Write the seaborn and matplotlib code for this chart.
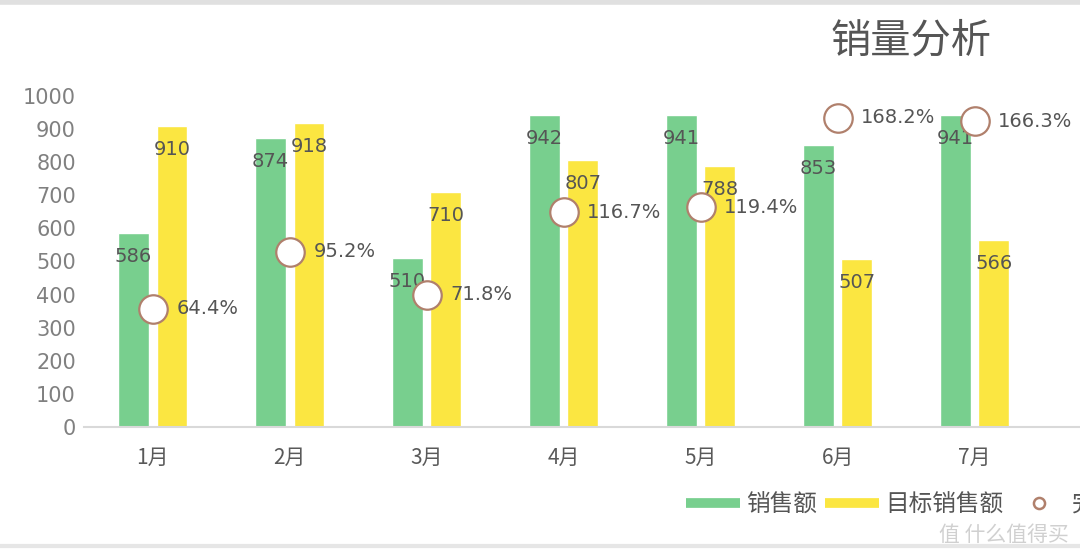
import matplotlib
matplotlib.use("Agg")
import matplotlib.pyplot as plt
from matplotlib.lines import Line2D
import seaborn as sns
import pandas as pd

months = ["1月", "2月", "3月", "4月", "5月", "6月", "7月"]
sales = [586, 874, 510, 942, 941, 853, 941]
targets = [910, 918, 710, 807, 788, 507, 566]
rates = [64.4, 95.2, 71.8, 116.7, 119.4, 168.2, 166.3]
yticks = [0, 100, 200, 300, 400, 500, 600, 700, 800, 900, 1000]

sns.set_theme(style="white")
plt.rcParams["font.family"] = ["Noto Sans CJK SC", "DejaVu Sans"]

GREEN = "#78CF8E"
YELLOW = "#FBE641"
EDGE = "#B0806C"
TXT = "#555555"

df = pd.DataFrame({
    "month": months * 2,
    "value": sales + targets,
    "series": ["销售额"] * len(months) + ["目标销售额"] * len(months),
})

fig = plt.figure(figsize=(10.8, 5.54), dpi=100)
ax = fig.add_axes([0.078, 0.229, 0.922, 0.598])
sns.barplot(data=df, x="month", y="value", hue="series", order=months,
            hue_order=["销售额", "目标销售额"], palette=[GREEN, YELLOW],
            width=0.56, gap=0.2, ax=ax, legend=False, saturation=1)

ax.set_ylim(0, 1000)
ax.set_xlim(-0.5, 6.77)
ax.set_yticks(yticks)
ax.set_yticklabels([str(t) for t in yticks], fontsize=15, color="#808080",
                   family=["DejaVu Sans"])
ax.tick_params(axis="y", length=0, pad=6)
ax.tick_params(axis="x", length=0, pad=14, labelsize=15, labelcolor="#595959")
ax.set_xlabel("")
ax.set_ylabel("")
for s in ["top", "right", "left"]:
    ax.spines[s].set_visible(False)
ax.spines["bottom"].set_color("#D9D9D9")
ax.spines["bottom"].set_linewidth(1.5)

for cont in ax.containers:
    for patch in cont:
        h = patch.get_height()
        ax.annotate(f"{h:.0f}", (patch.get_x() + patch.get_width() / 2, h),
                    xytext=(0, -17), textcoords="offset points",
                    ha="center", va="center", fontsize=14, color=TXT,
                    family=["DejaVu Sans"])

ax2 = ax.twinx()
ax2.set_ylim(0, 180)
ax2.set_xlim(-0.5, 6.77)
sns.scatterplot(x=list(range(len(months))), y=rates, ax=ax2, s=420,
                color="white", edgecolor=EDGE, linewidth=1.6, zorder=5)
for i, r in enumerate(rates):
    ax2.annotate(f"{r:.1f}%", (i, r), xytext=(17, 0), textcoords="offset points",
                 ha="left", va="center", fontsize=14, color=TXT,
                 family=["DejaVu Sans"])
ax2.set_yticks([])
ax2.set_ylabel("")
for s in ["top", "right", "left", "bottom"]:
    ax2.spines[s].set_visible(False)

fig.text(0.769, 0.926, "销量分析", fontsize=29, color="#555555", ha="left", va="center")

handles = [
    Line2D([0], [0], color=GREEN, lw=7, solid_capstyle="butt"),
    Line2D([0], [0], color=YELLOW, lw=7, solid_capstyle="butt"),
    Line2D([0], [0], marker="o", color="white", markeredgecolor=EDGE,
           markersize=8, markeredgewidth=1.8, lw=0),
]
fig.legend(handles, ["销售额", "目标销售额", "完成率"], loc="center left",
           bbox_to_anchor=(0.635, 0.088), ncol=3, frameon=False, fontsize=17,
           handlelength=2.3, handletextpad=0.25, columnspacing=0.35,
           labelcolor="#555555", borderpad=0, borderaxespad=0)

fig.text(0.99, 0.034, "值 什么值得买", fontsize=15, color="#D0D0D0",
         ha="right", va="center")
fig.add_artist(Line2D([0, 1], [0.997, 0.997], color="#E0E0E0", lw=4,
                      transform=fig.transFigure))
fig.add_artist(Line2D([0, 1], [0.015, 0.015], color="#E6E6E6", lw=3,
                      transform=fig.transFigure))

fig.savefig("out.png", dpi=100)
